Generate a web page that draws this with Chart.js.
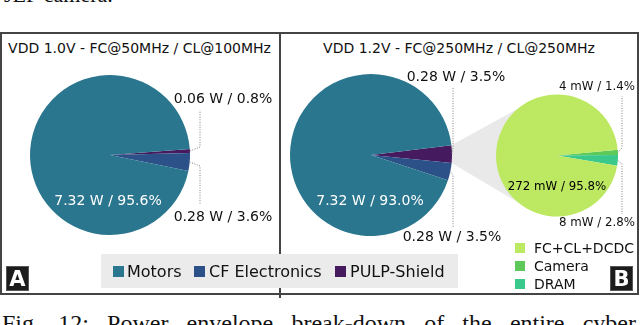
<!DOCTYPE html>
<html><head><meta charset="utf-8">
<script src="https://cdn.jsdelivr.net/npm/chart.js@4/dist/chart.umd.min.js"></script>
<style>
html,body{margin:0;padding:0;background:#fff;width:640px;height:325px;overflow:hidden;position:relative;font-family:"DejaVu Sans",sans-serif;color:#111;}
.abs{position:absolute;white-space:nowrap;}
canvas{position:absolute;}
.sq{position:absolute;}
</style></head><body>

<div class="abs" style="left:4px;top:-16.5px;font-family:'Liberation Serif',serif;font-size:22px;line-height:22px;">JEF camera.</div>

<div class="abs" style="left:0;top:32px;width:639px;height:263px;border:2px solid #444;box-sizing:border-box;"></div>
<div class="abs" style="left:278.5px;top:32px;width:2px;height:266px;background:#444;"></div>

<div class="abs" style="left:0;top:40px;width:279px;text-align:center;font-size:14px;line-height:16px;">VDD 1.0V - FC@50MHz / CL@100MHz</div>
<div class="abs" style="left:300px;top:40px;width:318px;text-align:center;font-size:14px;line-height:16px;">VDD 1.2V - FC@250MHz / CL@250MHz</div>

<canvas id="cA" width="279" height="262" style="left:0;top:33px;width:279px;height:262px;"></canvas>
<canvas id="cB" width="358" height="262" style="left:280px;top:33px;width:358px;height:262px;"></canvas>
<canvas id="cS" width="358" height="262" style="left:280px;top:33px;width:358px;height:262px;"></canvas>

<div class="abs" style="left:101px;top:254px;width:357px;height:34px;background:#ebebeb;"></div>
<div id="legMain"></div>
<div id="legShield"></div>

<div class="abs" style="left:6px;top:266px;width:23px;height:25px;background:#1c1c1c;border:1px solid #555;box-sizing:border-box;color:#fff;font-weight:bold;font-size:21px;line-height:24px;text-align:center;">A</div>
<div class="abs" style="left:610px;top:266px;width:23px;height:25px;background:#1c1c1c;border:1px solid #555;box-sizing:border-box;color:#fff;font-weight:bold;font-size:21px;line-height:24px;text-align:center;">B</div>

<div class="abs" style="left:2px;top:311px;width:634px;font-family:'Liberation Serif',serif;font-size:24px;line-height:24px;text-align:justify;text-align-last:justify;white-space:normal;">Fig. 12: Power envelope break-down of the entire cyber</div>

<script>
// ---- data ----
const categories = ['Motors', 'CF Electronics', 'PULP-Shield'];
const colorsMain = ['#2a768e', '#2b5188', '#461a5e'];
const powerA_W = [7.32, 0.28, 0.06];
const percentA = [95.6, 3.6, 0.8];
const powerB_W = [7.32, 0.28, 0.28];
const percentB = [93.0, 3.5, 3.5];
const shieldCategories = ['FC+CL+DCDC', 'Camera', 'DRAM'];
const colorsShield = ['#bde862', '#5dc95a', '#3ac98a'];
const shieldPower_mW = [272, 4, 8];
const shieldPercent = [95.8, 1.4, 2.8];

// drawing order (clockwise) inside each pie
const orderMain = [2, 1, 0];
const orderShield = [1, 2, 0];

// ---- legends ----
function addSq(parent, x, y, s, c){ const d=document.createElement('div'); d.className='sq'; d.style.cssText=`left:${x}px;top:${y}px;width:${s}px;height:${s}px;background:${c};`; parent.appendChild(d); }
function addTxt(parent, x, y, t, fs){ const d=document.createElement('div'); d.className='abs'; d.style.cssText=`left:${x}px;top:${y}px;font-size:${fs}px;line-height:20px;`; d.textContent=t; parent.appendChild(d); }
const lm = document.getElementById('legMain');
const legX = [[112.5,127],[194,209],[335,350]];
categories.forEach((c,i)=>{ addSq(lm, legX[i][0], 266, 11, colorsMain[i]); addTxt(lm, legX[i][1], 261.5, c, 16); });
const ls = document.getElementById('legShield');
const rowY = [248, 266, 284];
shieldCategories.forEach((c,i)=>{ addSq(ls, 515, rowY[i]-5, 10, colorsShield[i]); addTxt(ls, 534, rowY[i]-10, c, 14); });

// ---- label specs (page coordinates) ----
const specA = {
  'PULP-Shield': {kx:200, ky:147, ey:110, tx:223, ty:99},
  'CF Electronics': {kx:200, ky:166, ey:205, tx:223, ty:217},
  'Motors': {inner:true, dx:-2, fr:0.575, color:'#fff'}
};
const specB = {
  'PULP-Shield': {kx:453, ky:148, ey:87, tx:456, ty:77},
  'CF Electronics': {kx:453, ky:175, ey:227, tx:452, ty:237},
  'Motors': {inner:true, dx:-1, fr:0.575, color:'#fff'}
};
const specS = {
  'Camera': {kx:622, ky:148, ey:96, tx:597, ty:87},
  'DRAM': {kx:622, ky:164, ey:214, tx:597, ty:223},
  'FC+CL+DCDC': {inner:true, dx:0, fr:0.52, color:'#000'}
};

function labelPlugin(specs, texts, names, ox, oy, fontPx){
  return {
    id:'lbl',
    afterDatasetsDraw(chart){
      const ctx = chart.ctx;
      const arcs = chart.getDatasetMeta(0).data;
      ctx.save();
      ctx.font = fontPx + 'px "DejaVu Sans"';
      ctx.textAlign = 'center';
      ctx.textBaseline = 'middle';
      arcs.forEach((a, i) => {
        const p = a.getProps(['x','y','startAngle','endAngle','outerRadius'], true);
        const sp = specs[names[i]];
        if (!sp) return;
        if (sp.inner) {
          ctx.fillStyle = sp.color;
          ctx.fillText(texts[i], p.x + sp.dx, p.y + sp.fr * p.outerRadius);
          return;
        }
        const mid = (p.startAngle + p.endAngle) / 2;
        const ex = p.x + p.outerRadius * Math.cos(mid);
        const ey = p.y + p.outerRadius * Math.sin(mid);
        ctx.strokeStyle = '#808080';
        ctx.lineWidth = 1;
        ctx.setLineDash([1, 1.5]);
        ctx.beginPath();
        ctx.moveTo(ex, ey);
        ctx.lineTo(sp.kx - ox, sp.ky - oy);
        ctx.lineTo(sp.kx - ox, sp.ey - oy);
        ctx.stroke();
        ctx.setLineDash([]);
        ctx.fillStyle = '#111';
        ctx.fillText(texts[i], sp.tx - ox, sp.ty - oy);
      });
      ctx.restore();
    }
  };
}

function baseOpts(rotation, padding){
  return {
    responsive:false, animation:false, events:[], rotation:rotation,
    layout:{padding:padding},
    plugins:{legend:{display:false}, tooltip:{enabled:false}, title:{display:false}}
  };
}

const fmtW = (w,p) => w.toFixed(2) + ' W / ' + p.toFixed(1) + '%';
const fmtmW = (w,p) => w + ' mW / ' + p.toFixed(1) + '%';

// Panel A
const namesA = orderMain.map(i=>categories[i]);
new Chart(document.getElementById('cA'), {
  type:'pie',
  data:{labels:namesA, datasets:[{data:orderMain.map(i=>percentA[i]), backgroundColor:orderMain.map(i=>colorsMain[i]), borderWidth:0}]},
  options:baseOpts(85.7, {left:30, top:42, right:89, bottom:60}),
  plugins:[labelPlugin(specA, orderMain.map(i=>fmtW(powerA_W[i], percentA[i])), namesA, 0, 33, 14)]
});

// Panel B small pie (PULP-Shield break-down)
const namesS = orderShield.map(i=>shieldCategories[i]);
const chartS = new Chart(document.getElementById('cS'), {
  type:'pie',
  data:{labels:namesS, datasets:[{data:orderShield.map(i=>shieldPercent[i]), backgroundColor:orderShield.map(i=>colorsShield[i]), borderWidth:0}]},
  options:baseOpts(84.5, {left:216, top:61, right:20, bottom:78}),
  plugins:[labelPlugin(specS, orderShield.map(i=>fmtmW(shieldPower_mW[i], shieldPercent[i])), namesS, 280, 33, 11.8)]
});

// Panel B main pie + connector to the break-down
const namesB = orderMain.map(i=>categories[i]);
const connector = {
  id:'connector',
  beforeDatasetsDraw(chart){
    const arc = chart.getDatasetMeta(0).data[namesB.indexOf('PULP-Shield')];
    const p = arc.getProps(['x','y','startAngle','endAngle','outerRadius'], true);
    const s = chartS.getDatasetMeta(0).data[0].getProps(['x','y','outerRadius'], true);
    const a = 130 * Math.PI / 180;
    const ctx = chart.ctx;
    ctx.save();
    ctx.fillStyle = '#e9e9e9';
    ctx.beginPath();
    ctx.moveTo(p.x + p.outerRadius*Math.cos(p.startAngle), p.y + p.outerRadius*Math.sin(p.startAngle));
    ctx.lineTo(s.x + s.outerRadius*Math.cos(-a), s.y + s.outerRadius*Math.sin(-a));
    ctx.lineTo(s.x + s.outerRadius*Math.cos(a), s.y + s.outerRadius*Math.sin(a));
    ctx.lineTo(p.x + p.outerRadius*Math.cos(p.endAngle), p.y + p.outerRadius*Math.sin(p.endAngle));
    ctx.closePath();
    ctx.fill();
    ctx.restore();
  }
};
new Chart(document.getElementById('cB'), {
  type:'pie',
  data:{labels:namesB, datasets:[{data:orderMain.map(i=>percentB[i]), backgroundColor:orderMain.map(i=>colorsMain[i]), borderWidth:0}]},
  options:baseOpts(83, {left:10, top:41, right:186, bottom:59}),
  plugins:[connector, labelPlugin(specB, orderMain.map(i=>fmtW(powerB_W[i], percentB[i])), namesB, 280, 33, 14)]
});
</script>
</body></html>
